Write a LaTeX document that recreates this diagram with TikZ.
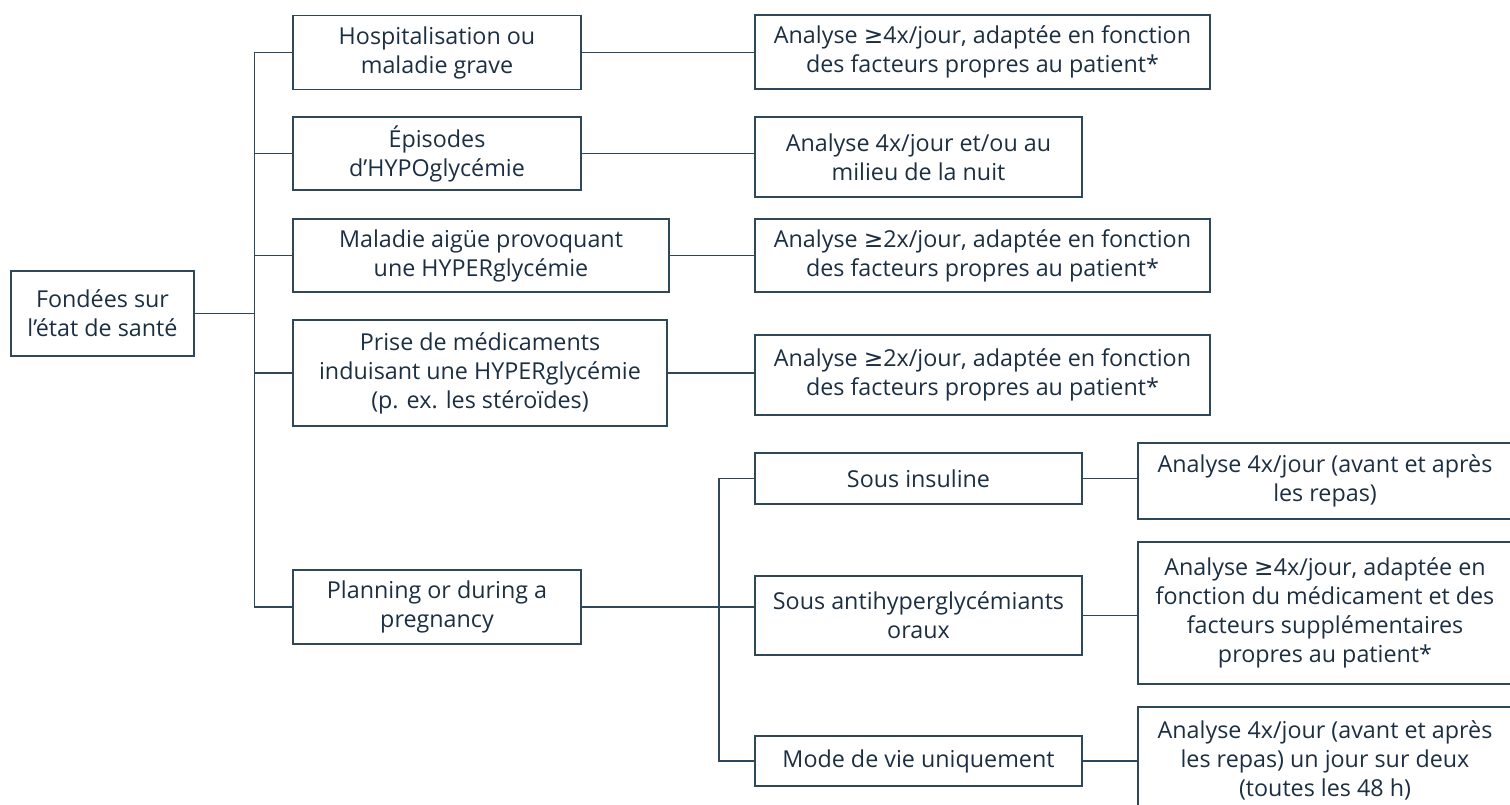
\documentclass[tikz,border=0pt]{standalone}
\usepackage{fontspec}
\setmainfont{Open Sans}
\newfontfamily\symfont{DejaVu Sans}
\usepackage{tikz}
\usepackage{xcolor}

\definecolor{linecol}{HTML}{2E4859}
\definecolor{textcol}{HTML}{1C2F42}
\newcommand{\gesym}{{\symfont ≥}}

\tikzset{
	box/.style={draw=linecol, line width=1.6pt, text=textcol, align=center,
		inner sep=0pt, font=\fontsize{23.3}{29}\selectfont},
	link/.style={draw=linecol, line width=1.6pt}
}

\begin{document}
\begin{tikzpicture}[x=1pt,y=-1pt]
			\useasboundingbox (0,0) rectangle (1510,805);
			\clip (0,0) rectangle (1510,805);
			% first level
			\node[box, minimum width=183, minimum height=85] (root) at (102.5,313.5) {Fondées sur\\l’état de santé};
			\node[box, minimum width=288, minimum height=74] (hosp) at (437,52.5) {Hospitalisation ou\\maladie grave};
			\node[box, minimum width=288, minimum height=73] (hypo) at (437,153.5) {Épisodes\\d’HYPOglycémie};
			\node[box, minimum width=376, minimum height=73] (hyper) at (481,255.5) {Maladie aigüe provoquant\\une HYPERglycémie};
			\node[box, minimum width=374, minimum height=106] (med) at (480,373) {Prise de médicaments\\induisant une HYPERglycémie\\(p. ex. les stéroïdes)};
			\node[box, minimum width=288, minimum height=74] (preg) at (437,607) {Planning or during a\\pregnancy};
			% analyses
			\node[box, minimum width=455, minimum height=74] (ana1) at (982.5,52) {Analyse \gesym4x/jour, adaptée en fonction\\des facteurs propres au patient*};
			\node[box, minimum width=327, minimum height=80] (ana2) at (918.5,157) {Analyse 4x/jour et/ou au\\milieu de la nuit};
			\node[box, minimum width=455, minimum height=73] (ana3) at (982.5,255.5) {Analyse \gesym2x/jour, adaptée en fonction\\des facteurs propres au patient*};
			\node[box, minimum width=455, minimum height=80] (ana4) at (982.5,375) {Analyse \gesym2x/jour, adaptée en fonction\\des facteurs propres au patient*};
			% pregnancy
			\node[box, minimum width=327, minimum height=51] (ins) at (918.5,478.5) {Sous insuline};
			\node[box, minimum width=327, minimum height=79] (oral) at (918.5,615.5) {Sous antihyperglycémiants\\oraux};
			\node[box, minimum width=327, minimum height=50] (life) at (918.5,761) {Mode de vie uniquement};
			\node[box, minimum width=374, minimum height=76] (tst1) at (1325,481) {Analyse 4x/jour (avant et après\\les repas)};
			\node[box, minimum width=374, minimum height=142] (tst2) at (1325,613) {Analyse \gesym4x/jour, adaptée en\\fonction du médicament et des\\facteurs supplémentaires\\propres au patient*};
			\node[box, minimum width=374, minimum height=106] (tst3) at (1325,760) {Analyse 4x/jour (avant et après\\les repas) un jour sur deux\\(toutes les 48 h)};

			\coordinate (spine) at (254.5,0);
			\coordinate (spinetwo) at (719,0);
			\draw[link] (root.east) -- (root.east -| spine);
			\draw[link] (hosp.west) -- (hosp.west -| spine) -- (preg.west -| spine) -- (preg.west);
			\foreach \n in {hypo,hyper,med}{
				\draw[link] (\n.west) -- (\n.west -| spine);
			}
			\draw[link] (hosp.east) -- (hosp.east -| ana1.west);
			\draw[link] (hypo.east) -- (hypo.east -| ana2.west);
			\draw[link] (hyper.east) -- (hyper.east -| ana3.west);
			\draw[link] (med.east) -- (med.east -| ana4.west);
			\draw[link] (preg.east) -- (preg.east -| oral.west);
			\draw[link] (ins.west) -- (ins.west -| spinetwo) -- (life.west -| spinetwo) -- (life.west);
			\draw[link] (ins.east) -- (ins.east -| tst1.west);
			\draw[link] (oral.east) -- (oral.east -| tst2.west);
			\draw[link] (life.east) -- (life.east -| tst3.west);
		\end{tikzpicture}
\end{document}
